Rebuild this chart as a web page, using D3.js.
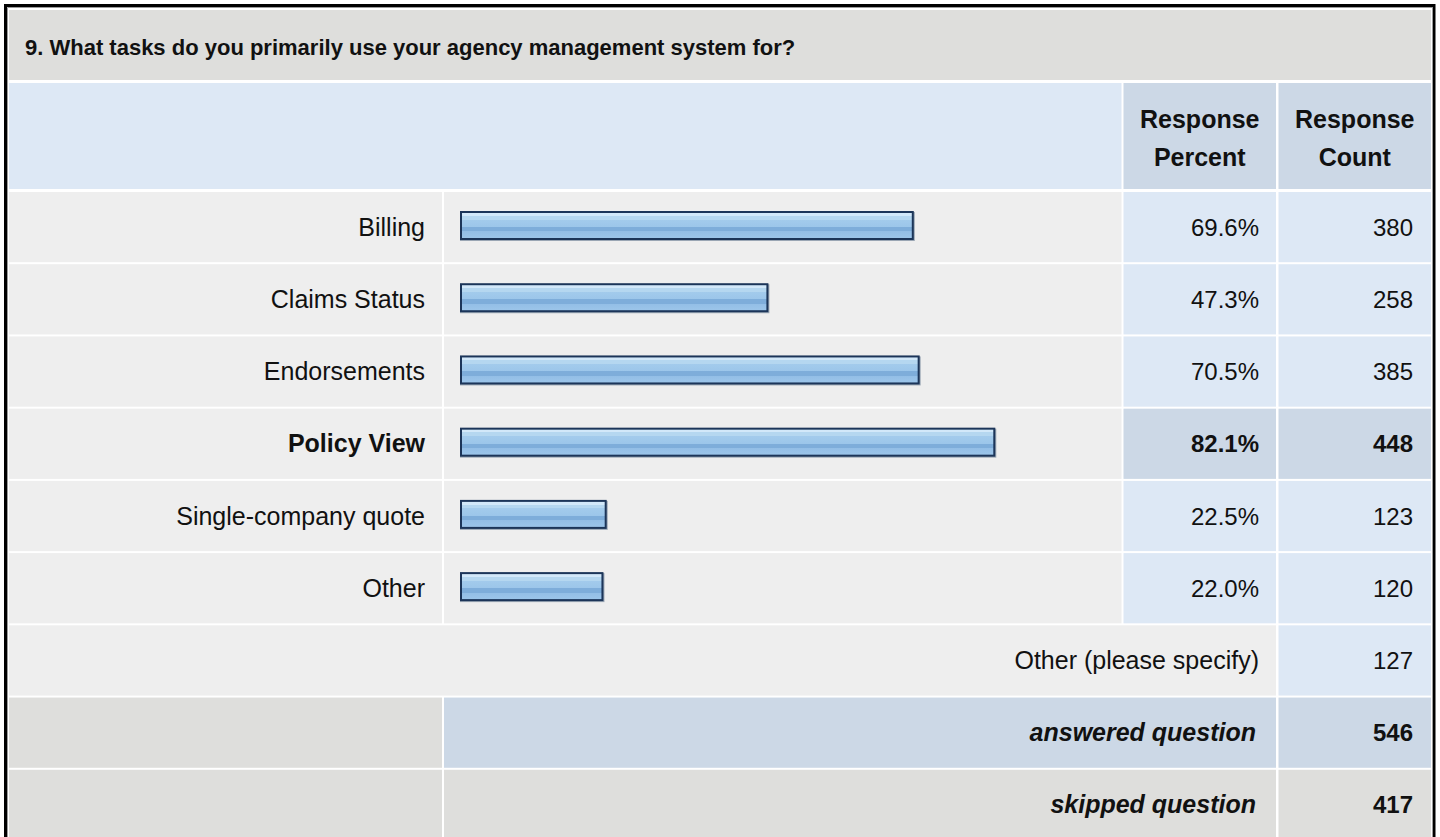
<!DOCTYPE html>
<html>
<head>
<meta charset="utf-8">
<script src="https://cdn.jsdelivr.net/npm/d3@7"></script>
<style>
  body { margin: 0; background: #ffffff; }
  svg { display: block; }
  text { font-family: "Liberation Sans", Arial, sans-serif; fill: #111; }
</style>
</head>
<body>
<script>
const w = 1440;
const h = 837;

let title = "9. What tasks do you primarily use your agency management system for?";
let headers = [["Response", "Percent"], ["Response", "Count"]];

// answer choices and results
let categories = ["Billing", "Claims Status", "Endorsements", "Policy View", "Single-company quote", "Other"];
let percents = [69.6, 47.3, 70.5, 82.1, 22.5, 22.0];
let counts = [380, 258, 385, 448, 123, 120];
let highlighted = "Policy View";

// summary rows
let summaryLabels = ["Other (please specify)", "answered question", "skipped question"];
let summaryCounts = [127, 546, 417];

// table columns (x edges)
const colLabel = [9, 442];
const colBar = [444, 1121.5];
const colPct = [1123.5, 1276];
const colCount = [1278.5, 1431];

const wordSize = 25; // words render a bit wider than digits in the original
const numSize = 24;

const svg = d3
  .select("body")
  .append("svg")
  .attr("width", w)
  .attr("height", h);

// bar gradient (glossy stripes)
let grad = svg.append("defs")
  .append("linearGradient")
  .attr("id", "barFill")
  .attr("x1", 0).attr("x2", 0).attr("y1", 0).attr("y2", 1);
[
  [0, "#d2e8f9"], [0.14, "#d2e8f9"], [0.14, "#b5d7f0"], [0.28, "#b5d7f0"],
  [0.28, "#a3cbec"], [0.55, "#9cc6ea"], [0.55, "#7eadda"], [0.72, "#7eadda"],
  [0.72, "#93bee6"], [1, "#9dc6ea"]
].forEach(s => grad.append("stop").attr("offset", s[0]).attr("stop-color", s[1]));

// rows: one band per row, 2px white gap between rows
let rowKeys = categories.concat(summaryLabels);
let y = d3.scaleBand()
  .domain(rowKeys)
  .range([192, 192 + rowKeys.length * 72])
  .paddingInner(2 / 72)
  .paddingOuter(0)
  .align(0);

let x = d3.scaleLinear()
  .domain([0, 100])
  .range([460, 1112]);

function cell(x0, x1, y0, hh, fill) {
  svg.append("rect")
    .attr("x", x0)
    .attr("y", y0)
    .attr("width", x1 - x0)
    .attr("height", hh)
    .attr("fill", fill);
}

function label(txt, tx, ty, anchor, size, weight, style) {
  svg.append("text")
    .attr("x", tx)
    .attr("y", ty)
    .attr("text-anchor", anchor)
    .style("font-size", size + "px")
    .style("font-weight", weight || "normal")
    .style("font-style", style || "normal")
    .text(txt);
}

// title band
cell(colLabel[0], colCount[1], 10, 70, "#dededc");
svg.append("text")
  .attr("x", 25)
  .attr("y", 55)
  .style("font-size", "22px")
  .style("font-weight", "bold")
  .text(title);

// header band
cell(colLabel[0], colBar[1], 83, 106, "#dde8f5");
cell(colPct[0], colPct[1], 83, 106, "#ccd8e6");
cell(colCount[0], colCount[1], 83, 106, "#ccd8e6");
[colPct, colCount].forEach(function(c, i) {
  let cx = (c[0] + c[1]) / 2;
  label(headers[i][0], cx, 128, "middle", wordSize, "bold");
  label(headers[i][1], cx, 166, "middle", wordSize, "bold");
});

// answer rows
const bh = y.bandwidth();
categories.forEach(function(cat, i) {
  let y0 = y(cat);
  let hi = cat == highlighted;
  let base = y0 + bh / 2 + 8.6;
  cell(colLabel[0], colLabel[1], y0, bh, "#eeeeee");
  cell(colBar[0], colBar[1], y0, bh, "#eeeeee");
  cell(colPct[0], colPct[1], y0, bh, hi ? "#ccd8e6" : "#dde8f5");
  cell(colCount[0], colCount[1], y0, bh, hi ? "#ccd8e6" : "#dde8f5");

  label(cat, colLabel[1] - 17, base, "end", wordSize, hi ? "bold" : "normal");
  label(percents[i].toFixed(1) + "%", colPct[1] - 17, base, "end", numSize, hi ? "bold" : "normal");
  label(counts[i], colCount[1] - 18, base, "end", numSize, hi ? "bold" : "normal");
});

// bars
let bars = svg.selectAll(".bar")
  .data(categories)
  .enter()
  .append("g")
  .attr("class", "bar");

bars.append("rect") // soft shadow
  .attr("x", x(0))
  .attr("y", d => y(d) + 20)
  .attr("width", (d, i) => x(percents[i]) - x(0) + 1)
  .attr("height", 29)
  .attr("fill", "#9aa6b4");

bars.append("rect")
  .attr("x", x(0) + 1)
  .attr("y", d => y(d) + 20)
  .attr("width", (d, i) => x(percents[i]) - x(0) - 2)
  .attr("height", 27)
  .attr("fill", "url(#barFill)")
  .attr("stroke", "#1c3559")
  .attr("stroke-width", 2);

// other (please specify)
let yo = y(summaryLabels[0]);
cell(colLabel[0], colPct[1], yo, bh, "#eeeeee");
cell(colCount[0], colCount[1], yo, bh, "#dde8f5");
label(summaryLabels[0], colPct[1] - 17, yo + bh / 2 + 8.6, "end", wordSize);
label(summaryCounts[0], colCount[1] - 18, yo + bh / 2 + 8.6, "end", numSize);

// answered question
let ya = y(summaryLabels[1]);
cell(colLabel[0], colLabel[1], ya, bh, "#dededc");
cell(colBar[0], colPct[1], ya, bh, "#ccd8e6");
cell(colCount[0], colCount[1], ya, bh, "#ccd8e6");
label(summaryLabels[1], colPct[1] - 20, ya + bh / 2 + 8.6, "end", wordSize, "bold", "italic");
label(summaryCounts[1], colCount[1] - 18, ya + bh / 2 + 8.6, "end", numSize, "bold");

// skipped question
let ys = y(summaryLabels[2]);
cell(colLabel[0], colLabel[1], ys, bh, "#dededc");
cell(colBar[0], colPct[1], ys, bh, "#dededc");
cell(colCount[0], colCount[1], ys, bh, "#dededc");
label(summaryLabels[2], colPct[1] - 20, ys + bh / 2 + 8.6, "end", wordSize, "bold", "italic");
label(summaryCounts[2], colCount[1] - 18, ys + bh / 2 + 8.6, "end", numSize, "bold");

// outer frame
svg.append("path")
  .attr("d", "M5.5," + h + " V5.5 H1434 V" + h)
  .attr("fill", "none")
  .attr("stroke", "#000")
  .attr("stroke-width", 3);
svg.append("path")
  .attr("d", "M7.5," + h + " V7.5 H1432.5 V" + h)
  .attr("fill", "none")
  .attr("stroke", "#9a9a9a")
  .attr("stroke-width", 1);
</script>
</body>
</html>
